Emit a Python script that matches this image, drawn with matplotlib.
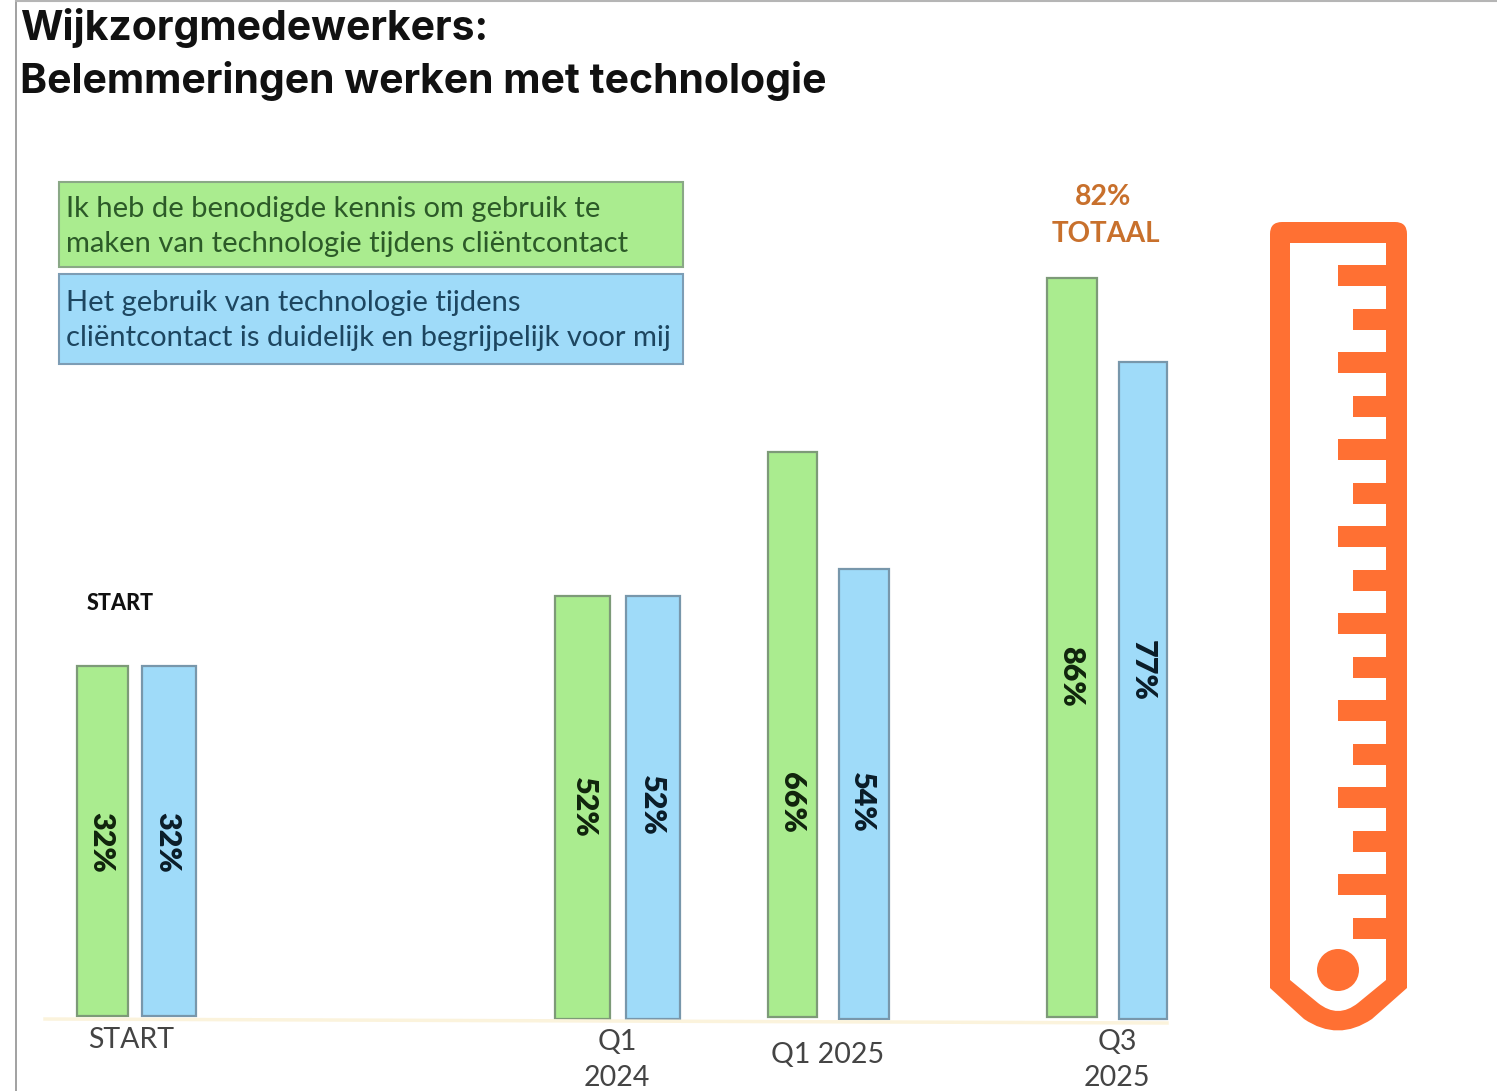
import matplotlib
matplotlib.use('Agg')
import matplotlib.pyplot as plt
from matplotlib.patches import Rectangle, Circle, PathPatch
from matplotlib.path import Path

plt.rcParams['font.family'] = ['Lato', 'DejaVu Sans']

# Bar heights as drawn in the picture (they do not all follow the printed labels)
kennis_heights = [40.9, 49.1, 65.8, 86.0]
duidelijk_heights = [40.9, 49.1, 52.2, 76.3]
kennis_labels = ['32%', '52%', '66%', '86%']
duidelijk_labels = ['32%', '52%', '54%', '77%']
periods = ['START', 'Q1\n2024', 'Q1 2025', 'Q3\n2025']

title_lines = ['Wijkzorgmedewerkers:', 'Belemmeringen werken met technologie']
legend_kennis = ['Ik heb de benodigde kennis om gebruik te',
                 'maken van technologie tijdens cliëntcontact']
legend_duidelijk = ['Het gebruik van technologie tijdens',
                    'cliëntcontact is duidelijk en begrijpelijk voor mij']

GREEN = '#aaec8f'
BLUE = '#9fdbf9'
ORANGE = '#ff7033'
W, H = 1497, 1091
BASE = 1018
PX_PER_UNIT = 8.6

# bar placement in figure pixels
green_left = [77, 555, 768, 1047]
green_width = [51, 55, 49, 50]
blue_left = [142, 626, 839, 1119]
blue_width = [54, 54, 50, 48]
green_bottom = [0.2, -0.1, 0.1, 0.1]
blue_bottom = [0.2, -0.1, -0.1, -0.1]
period_x = [131, 617, 828, 1117]
period_y = [1040, 1060, 1055, 1060]
label_x_green = [101, 584, 792, 1071]
label_x_blue = [167, 652, 862, 1143]
label_y_green = [842, 807, 802, 676]
label_y_blue = [842, 805, 802, 670]

fig = plt.figure(figsize=(W / 100, H / 100), dpi=100, facecolor='white')

ax = fig.add_axes([0, 0, 1, 1])
ax.set_xlim(0, W)
ax.set_ylim((BASE - H) / PX_PER_UNIT, BASE / PX_PER_UNIT)
ax.axis('off')

# overlay in pixel coordinates for text and the thermometer
px = fig.add_axes([0, 0, 1, 1])
px.set_xlim(0, W)
px.set_ylim(H, 0)
px.axis('off')
px.patch.set_alpha(0)

ax.bar(green_left, [h - b for h, b in zip(kennis_heights, green_bottom)], bottom=green_bottom,
       width=green_width, align='edge', color=GREEN, edgecolor='#7d9a78', linewidth=1.6)
ax.bar(blue_left, [h - b for h, b in zip(duidelijk_heights, blue_bottom)], bottom=blue_bottom,
       width=blue_width, align='edge', color=BLUE, edgecolor='#7897ab', linewidth=1.6)

# baseline and frame
px.plot([45, 1167], [1019, 1023], color='#fbf3dc', lw=2.5, zorder=0)
px.plot([16, 16], [0, H], color='#9a9a9a', lw=1.3)
px.plot([16, W], [0.5, 0.5], color='#b5b5b5', lw=1.5)

# bar value labels
for i in range(4):
    px.text(label_x_green[i], label_y_green[i], kennis_labels[i],
            rotation=270, ha='center', va='center', fontsize=22, fontweight='heavy', color='#10240c')
    px.text(label_x_blue[i], label_y_blue[i], duidelijk_labels[i],
            rotation=270, ha='center', va='center', fontsize=22, fontweight='heavy', color='#0a1c28')
    px.text(period_x[i], period_y[i], periods[i], ha='center', va='center', fontsize=20.5,
            color='#444444', linespacing=1.45)

# title
px.text(20, 28, title_lines[0], fontsize=29.5, fontweight='bold', color='#111111', va='center', family='Inter')
px.text(20, 81, title_lines[1], fontsize=29.5, fontweight='bold', color='#111111', va='center', family='Inter')

# legend boxes
px.add_patch(Rectangle((59, 182), 624, 85, facecolor=GREEN, edgecolor='#8aa886', lw=1.5))
px.add_patch(Rectangle((59, 274), 624, 90, facecolor=BLUE, edgecolor='#7d9db5', lw=1.5))
px.text(66, 209, legend_kennis[0], fontsize=21, color='#2c5a28', va='center')
px.text(66, 244, legend_kennis[1], fontsize=21, color='#2c5a28', va='center')
px.text(66, 303, legend_duidelijk[0], fontsize=21, color='#1d4660', va='center')
px.text(66, 338, legend_duidelijk[1], fontsize=21, color='#1d4660', va='center')

# small annotations
px.text(120, 603, 'START', fontsize=15.5, fontweight='black', color='#111111', ha='center', va='center')
px.text(1103, 197, '82%', fontsize=20.5, fontweight='bold', color='#c8702c', ha='center', va='center')
px.text(1106, 234, 'TOTAAL', fontsize=20, fontweight='bold', color='#c8702c', ha='center', va='center')

# thermometer outline
outer = [(Path.MOVETO, (1282, 222)), (Path.LINETO, (1395, 222)),
         (Path.CURVE3, (1407, 222)), (Path.CURVE3, (1407, 234)),
         (Path.LINETO, (1407, 988)), (Path.LINETO, (1372, 1019)),
         (Path.CURVE3, (1338, 1042)), (Path.CURVE3, (1304, 1019)),
         (Path.LINETO, (1270, 988)), (Path.LINETO, (1270, 234)),
         (Path.CURVE3, (1270, 222)), (Path.CURVE3, (1282, 222)),
         (Path.CLOSEPOLY, (1282, 222))]
inner = [(Path.MOVETO, (1290, 243)), (Path.LINETO, (1290, 980)),
         (Path.LINETO, (1318, 1003)), (Path.CURVE3, (1338, 1019)),
         (Path.CURVE3, (1358, 1003)), (Path.LINETO, (1386, 980)),
         (Path.LINETO, (1386, 243)), (Path.CLOSEPOLY, (1290, 243))]
codes, verts = zip(*(outer + inner))
px.add_patch(PathPatch(Path(verts, codes), facecolor=ORANGE, edgecolor='none'))

for k in range(16):
    start = 1338 if k % 2 == 0 else 1353
    top = 265 + k * 43.5
    px.add_patch(Rectangle((start, top), 1387 - start, 21, facecolor=ORANGE, edgecolor='none'))
px.add_patch(Circle((1338, 970), 21, facecolor=ORANGE, edgecolor='none'))

fig.savefig('out.png', dpi=100)
